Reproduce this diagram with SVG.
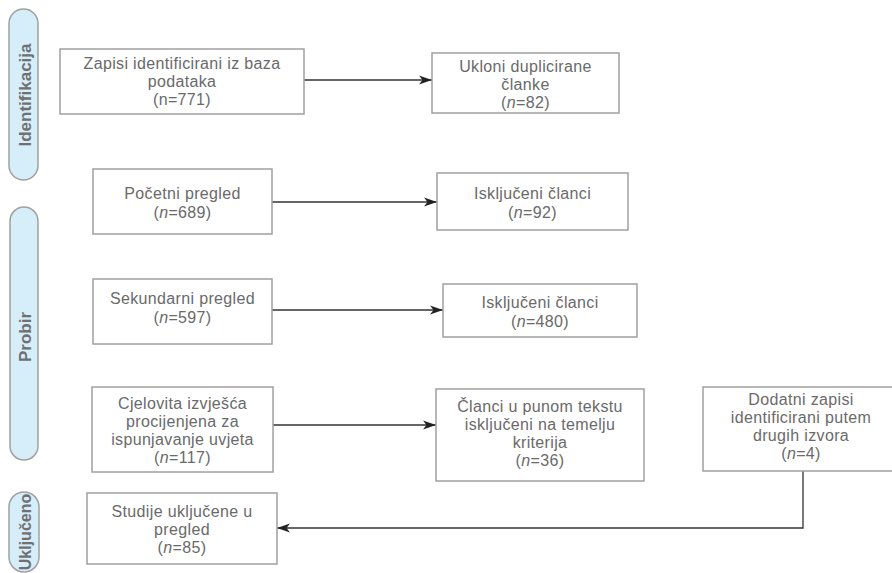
<svg xmlns="http://www.w3.org/2000/svg" width="892" height="573" viewBox="0 0 892 573">
<style>
.bg{fill:#ffffff}
.box{fill:#ffffff;stroke:#a0a0a0;stroke-width:1.5}
.pill{fill:#d6edfa;stroke:#a0a0a0;stroke-width:1.5}
.t{font-family:"Liberation Sans",Arial,sans-serif;font-size:16px;letter-spacing:0.35px;fill:#6a6a6a;text-anchor:middle}
.lab{font-family:"Liberation Sans",Arial,sans-serif;font-size:17px;font-weight:700;fill:#707070;text-anchor:middle}
.c{fill:none;stroke:#333333;stroke-width:1.3}
</style>
<defs>
<marker id="ah" markerUnits="userSpaceOnUse" markerWidth="14" markerHeight="10" refX="13" refY="5" orient="auto">
<path d="M0,0.5 L13,5 L0,9.5 L3.5,5 Z" fill="#222222"/>
</marker>
</defs>
<rect class="bg" x="0" y="0" width="892" height="573"/>

<g id="phase-identifikacija">
<rect class="pill" x="9" y="9" width="29" height="171" rx="14.5"/>
<text class="lab" transform="translate(31,95) rotate(-90)">Identifikacija</text>
</g>
<g id="phase-probir">
<rect class="pill" x="10" y="207" width="28" height="253" rx="14"/>
<text class="lab" transform="translate(31,337) rotate(-90)">Probir</text>
</g>
<g id="phase-ukljuceno">
<rect class="pill" x="9" y="492" width="30" height="80" rx="15"/>
<text class="lab" style="font-size:16px" transform="translate(31,532) rotate(-90)">Uključeno</text>
</g>

<g id="connectors">
<line class="c" x1="304" y1="80" x2="432" y2="80" marker-end="url(#ah)"/>
<line class="c" x1="272" y1="202" x2="437" y2="202" marker-end="url(#ah)"/>
<line class="c" x1="272" y1="310" x2="443" y2="310" marker-end="url(#ah)"/>
<line class="c" x1="273" y1="425" x2="436" y2="425" marker-end="url(#ah)"/>
<polyline class="c" points="803,471 803,528 277,528" marker-end="url(#ah)"/>
</g>

<g id="n-zapisi">
<rect class="box" x="60" y="49" width="244" height="65"/>
<text class="t" x="182" y="69">Zapisi identificirani iz baza</text>
<text class="t" x="182" y="87">podataka</text>
<text class="t" x="182" y="105">(n=771)</text>
</g>
<g id="n-ukloni">
<rect class="box" x="432" y="53" width="187" height="60"/>
<text class="t" x="525.5" y="72">Ukloni duplicirane</text>
<text class="t" x="525.5" y="90">članke</text>
<text class="t" x="525.5" y="108">(<tspan font-style="italic">n</tspan>=82)</text>
</g>
<g id="n-pocetni">
<rect class="box" x="93" y="169" width="179" height="65"/>
<text class="t" x="182.5" y="199">Početni pregled</text>
<text class="t" x="182.5" y="218">(<tspan font-style="italic">n</tspan>=689)</text>
</g>
<g id="n-iskljuceni92">
<rect class="box" x="437" y="173" width="191" height="57"/>
<text class="t" x="532.5" y="199">Isključeni članci</text>
<text class="t" x="532.5" y="218">(<tspan font-style="italic">n</tspan>=92)</text>
</g>
<g id="n-sekundarni">
<rect class="box" x="93" y="279" width="179" height="65"/>
<text class="t" x="182.5" y="304">Sekundarni pregled</text>
<text class="t" x="182.5" y="323">(<tspan font-style="italic">n</tspan>=597)</text>
</g>
<g id="n-iskljuceni480">
<rect class="box" x="443" y="284" width="194" height="53"/>
<text class="t" x="540" y="308">Isključeni članci</text>
<text class="t" x="540" y="327">(<tspan font-style="italic">n</tspan>=480)</text>
</g>
<g id="n-cjelovita">
<rect class="box" x="92" y="387" width="181" height="85"/>
<text class="t" x="182.5" y="409">Cjelovita izvješća</text>
<text class="t" x="182.5" y="427">procijenjena za</text>
<text class="t" x="182.5" y="445">ispunjavanje uvjeta</text>
<text class="t" x="182.5" y="463">(<tspan font-style="italic">n</tspan>=117)</text>
</g>
<g id="n-clanci">
<rect class="box" x="436" y="389" width="208" height="92"/>
<text class="t" x="540" y="412">Članci u punom tekstu</text>
<text class="t" x="540" y="430">isključeni na temelju</text>
<text class="t" x="540" y="448">kriterija</text>
<text class="t" x="540" y="466">(<tspan font-style="italic">n</tspan>=36)</text>
</g>
<g id="n-dodatni">
<rect class="box" x="703" y="387" width="196" height="84"/>
<text class="t" x="801" y="405">Dodatni zapisi</text>
<text class="t" x="801" y="423">identificirani putem</text>
<text class="t" x="801" y="441">drugih izvora</text>
<text class="t" x="801" y="459">(<tspan font-style="italic">n</tspan>=4)</text>
</g>
<g id="n-studije">
<rect class="box" x="87" y="493" width="190" height="71"/>
<text class="t" x="182" y="517">Studije uključene u</text>
<text class="t" x="182" y="535">pregled</text>
<text class="t" x="182" y="553">(<tspan font-style="italic">n</tspan>=85)</text>
</g>
</svg>
